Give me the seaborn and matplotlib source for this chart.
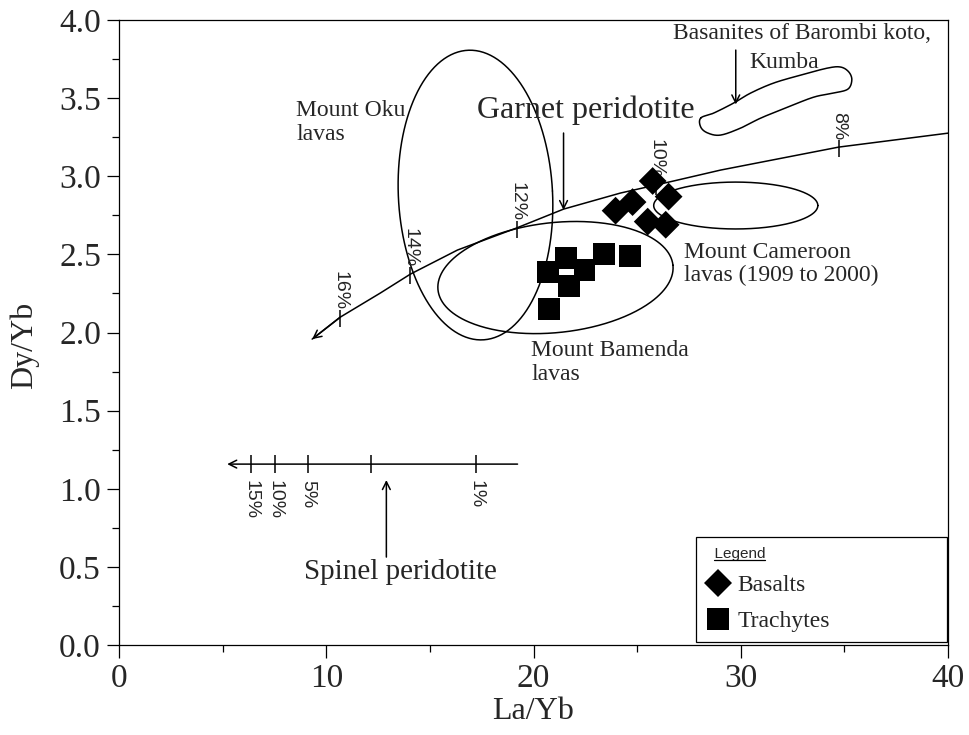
import numpy as np
import pandas as pd
import matplotlib
matplotlib.use("Agg")
import matplotlib.pyplot as plt
import seaborn as sns
from matplotlib.lines import Line2D
from matplotlib.ticker import MultipleLocator, FormatStrFormatter

# ---- sample ratios -------------------------------------------------------
basalt_la_yb = [23.96, 24.78, 25.75, 26.52, 25.51, 26.38]
basalt_dy_yb = [2.78, 2.835, 2.97, 2.87, 2.71, 2.69]
trachyte_la_yb = [20.72, 21.59, 22.46, 21.69, 23.38, 24.64, 20.77]
trachyte_dy_yb = [2.387, 2.477, 2.40, 2.298, 2.502, 2.489, 2.15]

# ---- garnet peridotite partial-melting curve ------------------------------
garnet_curve_x = [9.32, 10.68, 12.61, 14.06, 16.33, 19.18, 21.45, 24.20,
                  26.76, 29.03, 34.73, 40.05]
garnet_curve_y = [1.958, 2.099, 2.253, 2.374, 2.528, 2.669, 2.790, 2.893,
                  2.970, 3.040, 3.187, 3.277]
garnet_tick_x = [10.68, 14.06, 19.18, 25.89, 34.73]
garnet_tick_labels = ["16%", "14%", "12%", "10%", "8%"]

# ---- spinel peridotite partial-melting line -------------------------------
spinel_x = [5.22, 19.23]
spinel_y = 1.158
spinel_tick_x = [6.38, 7.54, 9.12, 12.16, 17.21]
spinel_tick_labels = ["15%", "10%", "5%", "", "1%"]

# ---- compositional fields: centre x, centre y, width, height, tilt (deg) ---
oku_field = (17.20, 2.88, 7.44, 1.856, 3)
bamenda_field = (21.06, 2.352, 11.4, 0.704, 6)
cameroon_field = (29.76, 2.813, 7.92, 0.30, 0)

# Barombi Koto basanite field outline
basanite_x = [28.07, 28.70, 29.66, 30.48, 31.59, 32.90, 34.20, 34.83, 35.22,
              35.36, 35.17, 34.49, 33.53, 32.27, 30.97, 30.00, 29.03, 28.41,
              28.07]
basanite_y = [3.373, 3.405, 3.469, 3.533, 3.597, 3.648, 3.693, 3.699, 3.667,
              3.616, 3.558, 3.533, 3.507, 3.443, 3.373, 3.309, 3.264, 3.277,
              3.315]

x_ticks = [0, 10, 20, 30, 40]
y_ticks = [0.0, 0.5, 1.0, 1.5, 2.0, 2.5, 3.0, 3.5, 4.0]

SERIF = ["Liberation Serif", "DejaVu Serif"]
SANS = ["Liberation Sans", "DejaVu Sans"]

sns.set_style("ticks")
plt.rcParams["font.family"] = SERIF
plt.rcParams["axes.linewidth"] = 0.9

fig = plt.figure(figsize=(9.7, 7.35), dpi=100)
ax = fig.add_axes([0.1227, 0.1224, 0.8546, 0.8503])
ax.set_xlim(0, 40)
ax.set_ylim(0, 4)


def field_outline(cx, cy, w, h, tilt):
    """Ellipse whose tilt is applied in screen space, returned in data units."""
    t = np.linspace(0, 2 * np.pi, 400)
    c = ax.transData.transform([(cx, cy)])[0]
    sx = ax.transData.transform([(cx + 1, cy)])[0][0] - c[0]
    sy = ax.transData.transform([(cx, cy + 1)])[0][1] - c[1]
    a, b = w / 2 * sx, h / 2 * sy
    th = np.deg2rad(tilt)
    u, v = a * np.cos(t), b * np.sin(t)
    px = c[0] + u * np.cos(th) - v * np.sin(th)
    py = c[1] + u * np.sin(th) + v * np.cos(th)
    return ax.transData.inverted().transform(np.column_stack([px, py]))


def smooth_closed(x, y, n=24):
    """Closed Catmull-Rom spline through the outline vertices."""
    p = np.column_stack([x, y])
    m = len(p)
    t = np.linspace(0, 1, n, endpoint=False)[:, None]
    segs = []
    for i in range(m):
        p0, p1, p2, p3 = p[i - 1], p[i], p[(i + 1) % m], p[(i + 2) % m]
        segs.append(0.5 * (2 * p1 + (-p0 + p2) * t
                           + (2 * p0 - 5 * p1 + 4 * p2 - p3) * t ** 2
                           + (-p0 + 3 * p1 - 3 * p2 + p3) * t ** 3))
    out = np.vstack(segs)
    return np.vstack([out, out[:1]])


line_kw = dict(color="black", lw=1.1, zorder=2)

# fields
for fld in (oku_field, bamenda_field, cameroon_field):
    xy = field_outline(*fld)
    ax.plot(xy[:, 0], xy[:, 1], **line_kw)
blob = smooth_closed(basanite_x, basanite_y)
ax.plot(blob[:, 0], blob[:, 1], **line_kw)

arrow_kw = dict(arrowstyle="->", color="black", lw=1.1, shrinkA=0, shrinkB=0,
                mutation_scale=14)

# garnet curve with tick marks and melt fractions
sns.lineplot(x=garnet_curve_x, y=garnet_curve_y, sort=False, estimator=None,
             ax=ax, **line_kw)
ax.annotate("", xy=(garnet_curve_x[0], garnet_curve_y[0]),
            xytext=(garnet_curve_x[1], garnet_curve_y[1]),
            arrowprops=arrow_kw)
g_tick_y = np.interp(garnet_tick_x, garnet_curve_x, garnet_curve_y)
ax.vlines(garnet_tick_x, g_tick_y - 0.065, g_tick_y + 0.045, **line_kw)
for gx, gy, lab in zip(garnet_tick_x, g_tick_y, garnet_tick_labels):
    ax.text(gx, gy + 0.045, lab, rotation=270, ha="center", va="bottom",
            fontsize=14, family=SANS, zorder=3)

# spinel line with tick marks and melt fractions
ax.annotate("", xy=(spinel_x[0], spinel_y), xytext=(spinel_x[1], spinel_y),
            arrowprops=arrow_kw)
ax.vlines(spinel_tick_x, spinel_y - 0.058, spinel_y + 0.058, **line_kw)
for sx_, lab in zip(spinel_tick_x, spinel_tick_labels):
    ax.text(sx_, spinel_y - 0.10, lab, rotation=270, ha="center", va="top",
            fontsize=14, family=SANS)

# source labels and pointers
ax.text(22.51, 3.424, "Garnet peridotite", ha="center", va="center",
        fontsize=23)
ax.annotate("", xy=(21.45, 2.784), xytext=(21.45, 3.277), arrowprops=arrow_kw)
ax.text(13.57, 0.467, "Spinel peridotite", ha="center", va="center",
        fontsize=21)
ax.annotate("", xy=(12.9, 1.056), xytext=(12.9, 0.563), arrowprops=arrow_kw)
ax.text(32.95, 3.917, "Basanites of Barombi koto,", ha="center",
        va="center", fontsize=17)
ax.text(32.08, 3.731, "Kumba", ha="center", va="center", fontsize=17)
ax.annotate("", xy=(29.76, 3.46), xytext=(29.76, 3.808), arrowprops=arrow_kw)

ax.text(8.55, 3.344, "Mount Oku\nlavas", ha="left", va="center",
        fontsize=17, linespacing=1.15)
ax.text(27.25, 2.438, "Mount Cameroon\nlavas (1909 to 2000)", ha="left",
        va="center", fontsize=17, linespacing=1.15)
ax.text(19.9, 1.808, "Mount Bamenda\nlavas", ha="left", va="center",
        fontsize=17, linespacing=1.15)

# samples
df = pd.DataFrame({
    "La/Yb": basalt_la_yb + trachyte_la_yb,
    "Dy/Yb": basalt_dy_yb + trachyte_dy_yb,
    "Rock": ["Basalts"] * len(basalt_la_yb) + ["Trachytes"] * len(trachyte_la_yb),
})
sns.scatterplot(data=df, x="La/Yb", y="Dy/Yb", style="Rock", size="Rock",
                markers={"Basalts": "D", "Trachytes": "s"},
                sizes={"Basalts": 200, "Trachytes": 250},
                color="black", linewidth=0, legend=False, ax=ax, zorder=5)

# axes styling
ax.set_xticks(x_ticks)
ax.set_yticks(y_ticks)
ax.xaxis.set_minor_locator(MultipleLocator(5))
ax.yaxis.set_minor_locator(MultipleLocator(0.25))
ax.yaxis.set_major_formatter(FormatStrFormatter("%.1f"))
ax.tick_params(which="major", direction="out", length=9, width=0.9,
               labelsize=24, pad=4, color="black")
ax.tick_params(which="minor", direction="out", length=5, width=0.9,
               color="black")
for sp in ax.spines.values():
    sp.set_visible(True)
    sp.set_color("black")
ax.set_xlabel("La/Yb", fontsize=23, va="top")
ax.set_ylabel("Dy/Yb", fontsize=23)
ax.xaxis.set_label_coords(0.5, -0.083)
ax.yaxis.set_label_coords(-0.097, 0.48)

# legend
handles = [
    Line2D([], [], marker="D", linestyle="none", color="black",
           markersize=14.3, markeredgewidth=0),
    Line2D([], [], marker="s", linestyle="none", color="black",
           markersize=15.8, markeredgewidth=0),
]
leg = ax.legend(handles, ["Basalts", "Trachytes"], title="  Legend",
                loc="lower left", bbox_to_anchor=(0.696, 0.005, 0.303, 0.165),
                mode="expand", alignment="left",
                prop={"family": SERIF, "size": 17},
                title_fontproperties={"family": SANS, "size": 11},
                frameon=True, fancybox=False, edgecolor="black",
                framealpha=1, borderpad=0.42, labelspacing=0.6,
                handletextpad=0.3, handlelength=1.05, borderaxespad=0)
leg.get_frame().set_linewidth(0.9)
leg.set_zorder(10)

# underline the legend title
fig.canvas.draw()
renderer = fig.canvas.get_renderer()
title = leg.get_title()
tb = title.get_window_extent(renderer)
probe = fig.text(0, 0, "Legend", family=SANS, fontsize=11)
pw = probe.get_window_extent(renderer).width
probe.remove()
inv = fig.transFigure.inverted()
(x0, y0), (x1, _) = inv.transform([(tb.x1 - pw, tb.y0 + 1), (tb.x1, tb.y0 + 1)])
fig.add_artist(Line2D([x0, x1], [y0, y0], color="black", lw=0.9, zorder=11))

fig.savefig("out.png", dpi=100)
